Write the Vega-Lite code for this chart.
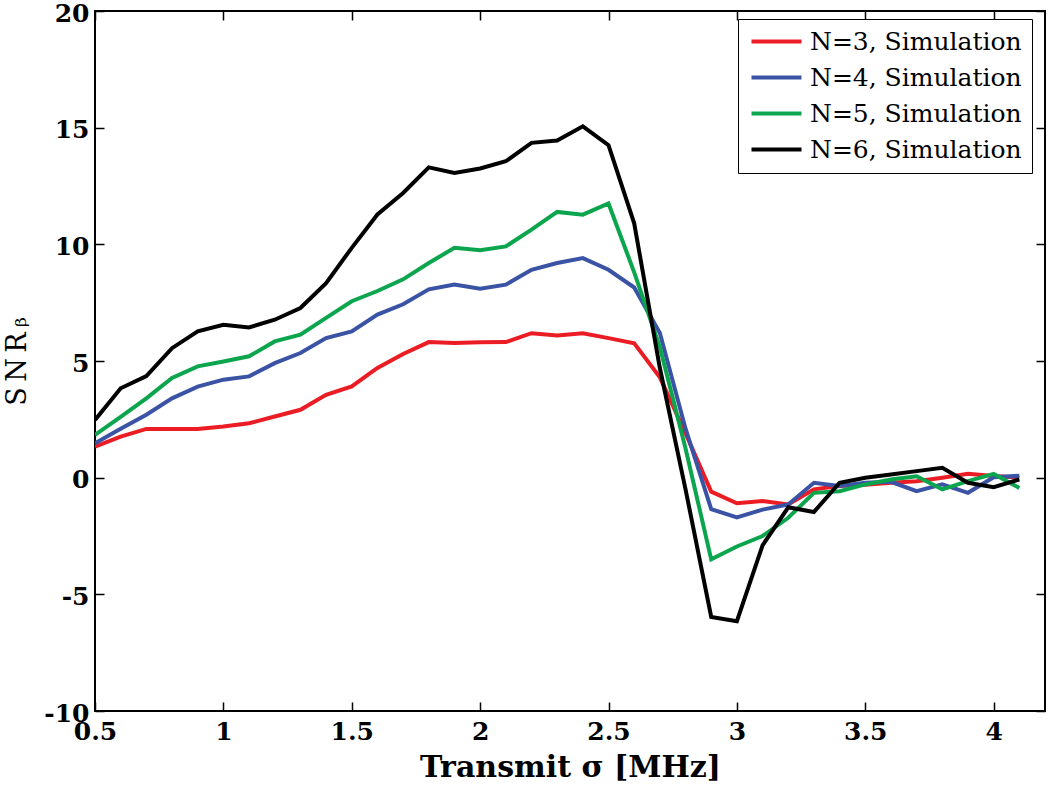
{
  "$schema": "https://vega.github.io/schema/vega-lite/v6.json",
  "width": 950,
  "height": 700,
  "autosize": "none",
  "padding": {"left": 95, "top": 11, "right": 5, "bottom": 82},
  "background": "white",
  "config": {
    "view": {"stroke": "black", "strokeWidth": 2},
    "axis": {
      "domain": false,
      "grid": false,
      "ticks": true,
      "tickColor": "black",
      "tickWidth": 1.5,
      "tickSize": -9,
      "labelFlush": false,
      "labelOverlap": false,
      "labelFont": "DejaVu Serif",
      "labelFontWeight": "bold",
      "labelFontSize": 25,
      "labelColor": "black",
      "titleColor": "black"
    }
  },
  "datasets": {
    "snr": [
      {"s": 0.5, "v": 1.33, "n": "N=3, Simulation"},
      {"s": 0.6, "v": 1.76, "n": "N=3, Simulation"},
      {"s": 0.7, "v": 2.09, "n": "N=3, Simulation"},
      {"s": 0.8, "v": 2.09, "n": "N=3, Simulation"},
      {"s": 0.9, "v": 2.09, "n": "N=3, Simulation"},
      {"s": 1.0, "v": 2.19, "n": "N=3, Simulation"},
      {"s": 1.1, "v": 2.33, "n": "N=3, Simulation"},
      {"s": 1.2, "v": 2.62, "n": "N=3, Simulation"},
      {"s": 1.3, "v": 2.91, "n": "N=3, Simulation"},
      {"s": 1.4, "v": 3.55, "n": "N=3, Simulation"},
      {"s": 1.5, "v": 3.91, "n": "N=3, Simulation"},
      {"s": 1.6, "v": 4.7, "n": "N=3, Simulation"},
      {"s": 1.7, "v": 5.3, "n": "N=3, Simulation"},
      {"s": 1.8, "v": 5.81, "n": "N=3, Simulation"},
      {"s": 1.9, "v": 5.77, "n": "N=3, Simulation"},
      {"s": 2.0, "v": 5.8, "n": "N=3, Simulation"},
      {"s": 2.1, "v": 5.81, "n": "N=3, Simulation"},
      {"s": 2.2, "v": 6.19, "n": "N=3, Simulation"},
      {"s": 2.3, "v": 6.09, "n": "N=3, Simulation"},
      {"s": 2.4, "v": 6.19, "n": "N=3, Simulation"},
      {"s": 2.5, "v": 5.98, "n": "N=3, Simulation"},
      {"s": 2.6, "v": 5.76, "n": "N=3, Simulation"},
      {"s": 2.7, "v": 4.3, "n": "N=3, Simulation"},
      {"s": 2.8, "v": 1.9, "n": "N=3, Simulation"},
      {"s": 2.9, "v": -0.6, "n": "N=3, Simulation"},
      {"s": 3.0, "v": -1.1, "n": "N=3, Simulation"},
      {"s": 3.1, "v": -1.0, "n": "N=3, Simulation"},
      {"s": 3.2, "v": -1.15, "n": "N=3, Simulation"},
      {"s": 3.3, "v": -0.5, "n": "N=3, Simulation"},
      {"s": 3.4, "v": -0.36, "n": "N=3, Simulation"},
      {"s": 3.5, "v": -0.3, "n": "N=3, Simulation"},
      {"s": 3.6, "v": -0.22, "n": "N=3, Simulation"},
      {"s": 3.7, "v": -0.15, "n": "N=3, Simulation"},
      {"s": 3.8, "v": 0.0, "n": "N=3, Simulation"},
      {"s": 3.9, "v": 0.17, "n": "N=3, Simulation"},
      {"s": 4.0, "v": 0.07, "n": "N=3, Simulation"},
      {"s": 4.1, "v": 0.0, "n": "N=3, Simulation"},

      {"s": 0.5, "v": 1.47, "n": "N=4, Simulation"},
      {"s": 0.6, "v": 2.1, "n": "N=4, Simulation"},
      {"s": 0.7, "v": 2.7, "n": "N=4, Simulation"},
      {"s": 0.8, "v": 3.4, "n": "N=4, Simulation"},
      {"s": 0.9, "v": 3.9, "n": "N=4, Simulation"},
      {"s": 1.0, "v": 4.2, "n": "N=4, Simulation"},
      {"s": 1.1, "v": 4.34, "n": "N=4, Simulation"},
      {"s": 1.2, "v": 4.91, "n": "N=4, Simulation"},
      {"s": 1.3, "v": 5.34, "n": "N=4, Simulation"},
      {"s": 1.4, "v": 5.98, "n": "N=4, Simulation"},
      {"s": 1.5, "v": 6.27, "n": "N=4, Simulation"},
      {"s": 1.6, "v": 6.99, "n": "N=4, Simulation"},
      {"s": 1.7, "v": 7.43, "n": "N=4, Simulation"},
      {"s": 1.8, "v": 8.07, "n": "N=4, Simulation"},
      {"s": 1.9, "v": 8.28, "n": "N=4, Simulation"},
      {"s": 2.0, "v": 8.1, "n": "N=4, Simulation"},
      {"s": 2.1, "v": 8.27, "n": "N=4, Simulation"},
      {"s": 2.2, "v": 8.91, "n": "N=4, Simulation"},
      {"s": 2.3, "v": 9.2, "n": "N=4, Simulation"},
      {"s": 2.4, "v": 9.41, "n": "N=4, Simulation"},
      {"s": 2.5, "v": 8.91, "n": "N=4, Simulation"},
      {"s": 2.6, "v": 8.15, "n": "N=4, Simulation"},
      {"s": 2.7, "v": 6.2, "n": "N=4, Simulation"},
      {"s": 2.8, "v": 2.1, "n": "N=4, Simulation"},
      {"s": 2.9, "v": -1.35, "n": "N=4, Simulation"},
      {"s": 3.0, "v": -1.7, "n": "N=4, Simulation"},
      {"s": 3.1, "v": -1.37, "n": "N=4, Simulation"},
      {"s": 3.2, "v": -1.15, "n": "N=4, Simulation"},
      {"s": 3.3, "v": -0.22, "n": "N=4, Simulation"},
      {"s": 3.4, "v": -0.36, "n": "N=4, Simulation"},
      {"s": 3.5, "v": -0.22, "n": "N=4, Simulation"},
      {"s": 3.6, "v": -0.18, "n": "N=4, Simulation"},
      {"s": 3.7, "v": -0.58, "n": "N=4, Simulation"},
      {"s": 3.8, "v": -0.29, "n": "N=4, Simulation"},
      {"s": 3.9, "v": -0.65, "n": "N=4, Simulation"},
      {"s": 4.0, "v": 0.02, "n": "N=4, Simulation"},
      {"s": 4.1, "v": 0.08, "n": "N=4, Simulation"},

      {"s": 0.5, "v": 1.83, "n": "N=5, Simulation"},
      {"s": 0.6, "v": 2.61, "n": "N=5, Simulation"},
      {"s": 0.7, "v": 3.4, "n": "N=5, Simulation"},
      {"s": 0.8, "v": 4.27, "n": "N=5, Simulation"},
      {"s": 0.9, "v": 4.77, "n": "N=5, Simulation"},
      {"s": 1.0, "v": 4.98, "n": "N=5, Simulation"},
      {"s": 1.1, "v": 5.2, "n": "N=5, Simulation"},
      {"s": 1.2, "v": 5.84, "n": "N=5, Simulation"},
      {"s": 1.3, "v": 6.13, "n": "N=5, Simulation"},
      {"s": 1.4, "v": 6.85, "n": "N=5, Simulation"},
      {"s": 1.5, "v": 7.56, "n": "N=5, Simulation"},
      {"s": 1.6, "v": 8.0, "n": "N=5, Simulation"},
      {"s": 1.7, "v": 8.5, "n": "N=5, Simulation"},
      {"s": 1.8, "v": 9.2, "n": "N=5, Simulation"},
      {"s": 1.9, "v": 9.85, "n": "N=5, Simulation"},
      {"s": 2.0, "v": 9.75, "n": "N=5, Simulation"},
      {"s": 2.1, "v": 9.91, "n": "N=5, Simulation"},
      {"s": 2.2, "v": 10.63, "n": "N=5, Simulation"},
      {"s": 2.3, "v": 11.39, "n": "N=5, Simulation"},
      {"s": 2.4, "v": 11.27, "n": "N=5, Simulation"},
      {"s": 2.5, "v": 11.75, "n": "N=5, Simulation"},
      {"s": 2.6, "v": 8.8, "n": "N=5, Simulation"},
      {"s": 2.7, "v": 5.6, "n": "N=5, Simulation"},
      {"s": 2.8, "v": 1.25, "n": "N=5, Simulation"},
      {"s": 2.9, "v": -3.5, "n": "N=5, Simulation"},
      {"s": 3.0, "v": -2.95, "n": "N=5, Simulation"},
      {"s": 3.1, "v": -2.5, "n": "N=5, Simulation"},
      {"s": 3.2, "v": -1.72, "n": "N=5, Simulation"},
      {"s": 3.3, "v": -0.65, "n": "N=5, Simulation"},
      {"s": 3.4, "v": -0.58, "n": "N=5, Simulation"},
      {"s": 3.5, "v": -0.29, "n": "N=5, Simulation"},
      {"s": 3.6, "v": -0.08, "n": "N=5, Simulation"},
      {"s": 3.7, "v": 0.06, "n": "N=5, Simulation"},
      {"s": 3.8, "v": -0.5, "n": "N=5, Simulation"},
      {"s": 3.9, "v": -0.15, "n": "N=5, Simulation"},
      {"s": 4.0, "v": 0.16, "n": "N=5, Simulation"},
      {"s": 4.1, "v": -0.44, "n": "N=5, Simulation"},

      {"s": 0.5, "v": 2.47, "n": "N=6, Simulation"},
      {"s": 0.6, "v": 3.83, "n": "N=6, Simulation"},
      {"s": 0.7, "v": 4.35, "n": "N=6, Simulation"},
      {"s": 0.8, "v": 5.55, "n": "N=6, Simulation"},
      {"s": 0.9, "v": 6.27, "n": "N=6, Simulation"},
      {"s": 1.0, "v": 6.55, "n": "N=6, Simulation"},
      {"s": 1.1, "v": 6.44, "n": "N=6, Simulation"},
      {"s": 1.2, "v": 6.77, "n": "N=6, Simulation"},
      {"s": 1.3, "v": 7.27, "n": "N=6, Simulation"},
      {"s": 1.4, "v": 8.34, "n": "N=6, Simulation"},
      {"s": 1.5, "v": 9.85, "n": "N=6, Simulation"},
      {"s": 1.6, "v": 11.28, "n": "N=6, Simulation"},
      {"s": 1.7, "v": 12.2, "n": "N=6, Simulation"},
      {"s": 1.8, "v": 13.3, "n": "N=6, Simulation"},
      {"s": 1.9, "v": 13.06, "n": "N=6, Simulation"},
      {"s": 2.0, "v": 13.25, "n": "N=6, Simulation"},
      {"s": 2.1, "v": 13.56, "n": "N=6, Simulation"},
      {"s": 2.2, "v": 14.35, "n": "N=6, Simulation"},
      {"s": 2.3, "v": 14.45, "n": "N=6, Simulation"},
      {"s": 2.4, "v": 15.06, "n": "N=6, Simulation"},
      {"s": 2.5, "v": 14.25, "n": "N=6, Simulation"},
      {"s": 2.6, "v": 10.9, "n": "N=6, Simulation"},
      {"s": 2.7, "v": 4.7, "n": "N=6, Simulation"},
      {"s": 2.8, "v": -0.5, "n": "N=6, Simulation"},
      {"s": 2.9, "v": -5.97, "n": "N=6, Simulation"},
      {"s": 3.0, "v": -6.15, "n": "N=6, Simulation"},
      {"s": 3.1, "v": -2.9, "n": "N=6, Simulation"},
      {"s": 3.2, "v": -1.27, "n": "N=6, Simulation"},
      {"s": 3.3, "v": -1.47, "n": "N=6, Simulation"},
      {"s": 3.4, "v": -0.22, "n": "N=6, Simulation"},
      {"s": 3.5, "v": 0.0, "n": "N=6, Simulation"},
      {"s": 3.6, "v": 0.14, "n": "N=6, Simulation"},
      {"s": 3.7, "v": 0.28, "n": "N=6, Simulation"},
      {"s": 3.8, "v": 0.42, "n": "N=6, Simulation"},
      {"s": 3.9, "v": -0.22, "n": "N=6, Simulation"},
      {"s": 4.0, "v": -0.41, "n": "N=6, Simulation"},
      {"s": 4.1, "v": -0.08, "n": "N=6, Simulation"}
    ]
  },
  "data": {"name": "snr"},
  "layer": [
    {
      "mark": {"type": "line", "strokeWidth": 4, "clip": true},
      "encoding": {
        "x": {
          "field": "s",
          "type": "quantitative",
          "scale": {"domain": [0.5, 4.2], "nice": false, "zero": false},
          "axis": {
            "orient": "bottom",
            "values": [0.5, 1, 1.5, 2, 2.5, 3, 3.5, 4],
            "labelExpr": "toString(datum.value)",
            "labelPadding": 17,
            "title": "Transmit σ [MHz]",
            "titleFont": "DejaVu Serif",
            "titleFontWeight": "bold",
            "titleFontSize": 30,
            "titlePadding": 8
          }
        },
        "y": {
          "field": "v",
          "type": "quantitative",
          "scale": {"domain": [-10, 20], "nice": false, "zero": false},
          "axis": {
            "orient": "left",
            "values": [-10, -5, 0, 5, 10, 15, 20],
            "labelExpr": "toString(datum.value)",
            "labelPadding": 15,
            "labelOffset": 2,
            "title": "S\u2009N\u2009R\u2009ᵦ",
            "titleFont": "DejaVu Serif",
            "titleFontWeight": "normal",
            "titleFontSize": 27,
            "titlePadding": 12
          }
        },
        "color": {
          "field": "n",
          "type": "nominal",
          "scale": {
            "domain": ["N=3, Simulation", "N=4, Simulation", "N=5, Simulation", "N=6, Simulation"],
            "range": ["#ec1c24", "#3a53a4", "#0ba54e", "#000000"]
          },
          "legend": {
            "orient": "none",
            "legendX": 643,
            "legendY": 8,
            "title": null,
            "fillColor": "white",
            "strokeColor": "black",
            "padding": 10,
            "symbolType": "M-2.5,0H2.5",
            "symbolSize": 400,
            "symbolStrokeWidth": 4,
            "symbolOffset": 16,
            "labelOffset": 21,
            "labelFont": "DejaVu Serif",
            "labelFontSize": 25,
            "labelLimit": 0,
            "labelColor": "black",
            "rowPadding": 10
          }
        }
      }
    },
    {
      "mark": {"type": "line", "opacity": 0},
      "encoding": {
        "x": {
          "field": "s",
          "type": "quantitative",
          "axis": {"orient": "top", "values": [0.5, 1, 1.5, 2, 2.5, 3, 3.5, 4], "labels": false, "title": null}
        },
        "y": {
          "field": "v",
          "type": "quantitative",
          "axis": {"orient": "right", "values": [-10, -5, 0, 5, 10, 15, 20], "labels": false, "title": null}
        }
      }
    }
  ],
  "resolve": {"axis": {"x": "independent", "y": "independent"}}
}
